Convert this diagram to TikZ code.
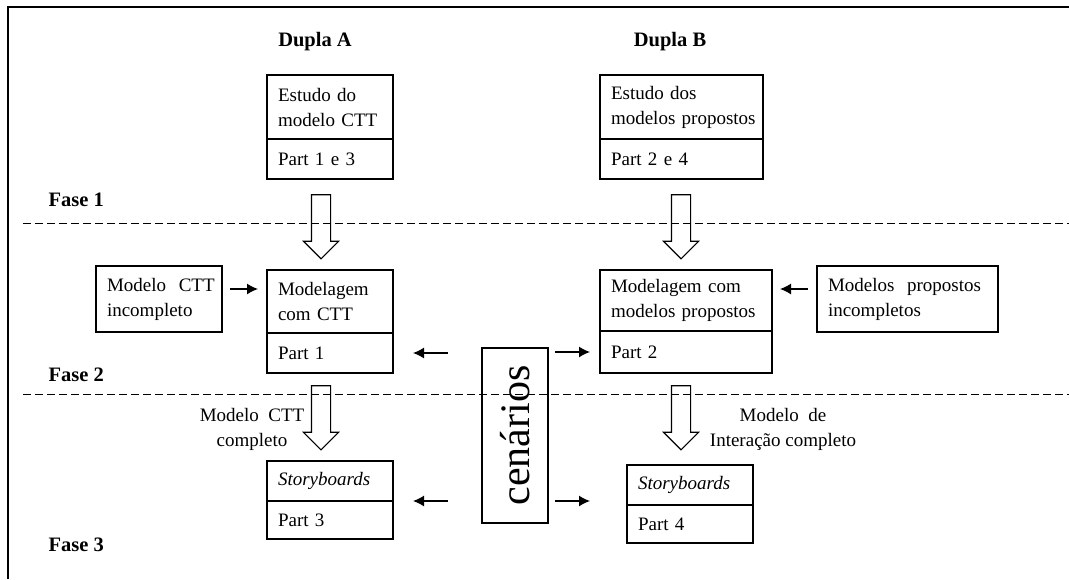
\documentclass[tikz,border=0pt]{standalone}
\usepackage{fontspec}
\setmainfont{Liberation Serif}
\usetikzlibrary{shapes.arrows,arrows.meta}
\hyphenpenalty=10000
\exhyphenpenalty=10000
\begin{document}
\begin{tikzpicture}[x=1pt,y=-1pt,
  txt/.style={font=\fontsize{19}{25}\selectfont},
  hd/.style={font=\fontsize{20.5}{25}\selectfont\bfseries},
  part/.style={draw, line width=1.2pt, rectangle, outer sep=0pt, inner xsep=11pt, inner ysep=0pt,
    align=left, anchor=north west, txt},
  hollow/.style={draw, line width=1.1pt, single arrow, rotate=-90, inner xsep=0pt, inner ysep=9pt,
    single arrow head extend=8pt, minimum height=64pt, outer sep=0pt},
  smallarr/.style={line width=1.3pt, -{Latex[length=11pt,width=11pt]}},
  sep/.style={line width=0.9pt, dash pattern=on 8pt off 4pt}
]
\useasboundingbox (0,0) rectangle (1069,579);
% frame
\draw[line width=2.2pt] (8,579) -- (8,7) -- (1069,7);
% headings
\node[hd] (dA) at (315,42) {Dupla A};
\node[hd] (dB) at (670,42) {Dupla B};
\node[hd, anchor=west] (f1) at (45,200) {Fase 1};
\node[hd, anchor=west] (f2) at (45,375) {Fase 2};
\node[hd, anchor=west] (f3) at (45,545) {Fase 3};
% separators
\draw[sep] (23,223) -- (1069,223);
\draw[sep] (23,394) -- (1069,394);
% phase 1 boxes
\node[part, text width=104pt, minimum height=64pt] (a1t) at (267,75) {\mbox{Estudo do}\\\mbox{modelo CTT}};
\node[part, text width=104pt, minimum height=40pt] (a1b) at (a1t.south west) {Part 1 e 3};
\node[part, text width=141pt, minimum height=64pt] (b1t) at (600,75) {\mbox{Estudo dos}\\\mbox{modelos propostos}};
\node[part, text width=141pt, minimum height=40pt] (b1b) at (b1t.south west) {Part 2 e 4};
% phase 2 boxes
\node[part, text width=104pt, minimum height=66pt] (mi) at (96,266) {\mbox{Modelo~ CTT}\\incompleto};
\node[part, text width=104pt, minimum height=63pt] (a2t) at (267,270) {Modelagem\\\mbox{com CTT}};
\node[part, text width=104pt, minimum height=40pt] (a2b) at (a2t.south west) {Part 1};
\node[part, text width=150pt, minimum height=61pt] (b2t) at (600,270) {\mbox{Modelagem com}\\\mbox{modelos propostos}};
\node[part, text width=150pt, minimum height=42pt] (b2b) at (b2t.south west) {Part 2};
\node[part, text width=159pt, minimum height=66pt] (mp) at (817,266) {\mbox{Modelos~ propostos}\\incompletos};
% phase 3 boxes
\node[part, text width=104pt, minimum height=40pt] (a3t) at (267,461) {\textit{Storyboards}};
\node[part, text width=104pt, minimum height=38pt] (a3b) at (a3t.south west) {Part 3};
\node[part, text width=104pt, minimum height=40pt] (b4t) at (627,465) {\textit{Storyboards}};
\node[part, text width=104pt, minimum height=38pt] (b4b) at (b4t.south west) {Part 4};
% cenarios
\node[draw, line width=1.2pt, minimum width=66pt, minimum height=175pt, inner sep=0pt, outer sep=0pt,
  font=\fontsize{42}{42}\selectfont] (cen) at (515,435.5) {\rotatebox{90}{cenários}};
% hollow arrows
\node[hollow] (ha1) at (321,222) {};
\node[hollow] (ha2) at (681,222) {};
\node[hollow] (ha3) at (321,413) {};
\node[hollow] (ha4) at (681,413) {};
% labels of hollow arrows
\node[txt, align=center] (l1) at (252,429) {Modelo~ CTT\\completo};
\node[txt, align=center] (l2) at (783,429) {Modelo~ de\\Interação completo};
% small arrows
\draw[smallarr, shorten <=8pt, shorten >=9pt] ([yshift=10pt]mi.east) -- ([yshift=10pt]mi.east -| a2t.west);
\draw[smallarr, shorten <=9pt, shorten >=8pt] ([yshift=10pt]mp.west) -- ([yshift=10pt]mp.west -| b2t.east);
\draw[smallarr, shorten <=34pt, shorten >=20pt] (cen.west |- a2b.east) -- (a2b.east);
\draw[smallarr, shorten <=7pt, shorten >=10pt] (cen.east |- b2b.west) -- (b2b.west);
\draw[smallarr, shorten <=34pt, shorten >=20pt] (cen.west |- a3t.south east) -- (a3t.south east);
\draw[smallarr, shorten <=7pt, shorten >=37pt] (cen.east |- a3t.south east) -- (cen.east |- a3t.south east -| b4t.west);
\end{tikzpicture}
\end{document}
